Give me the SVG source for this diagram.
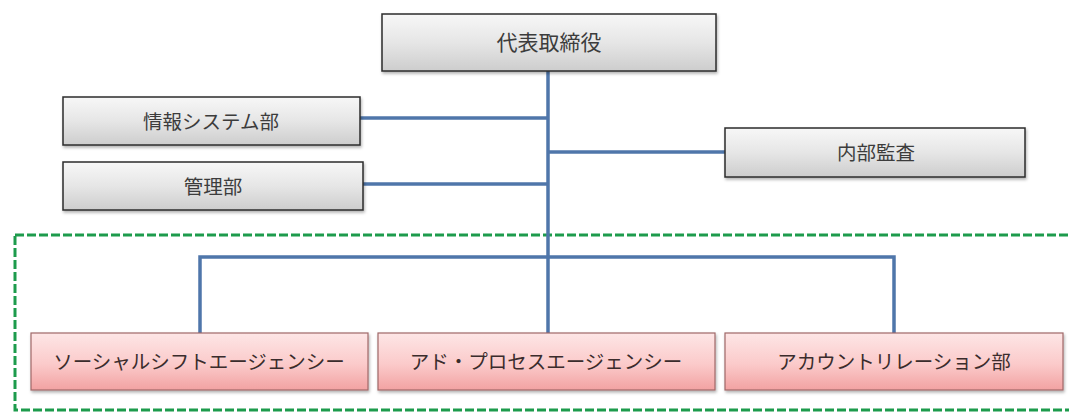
<svg xmlns="http://www.w3.org/2000/svg" width="1069" height="412" viewBox="0 0 1069 412">
<style>
.gbox{fill:url(#gg);stroke:#2b2b2b;stroke-width:1.5;filter:url(#sh)}
.pbox{fill:url(#pg);stroke:#a06868;stroke-width:1.2;filter:url(#sh)}
.t{font-family:"Noto Sans CJK JP","Noto Sans",sans-serif;font-size:19.5px;fill:#3c3c3c;text-anchor:middle;dominant-baseline:central}
.tp{fill:#3a2c2c}
.conn{fill:none;stroke:#4f76aa;stroke-width:3.5}
.grp{fill:none;stroke:#1d9b4c;stroke-width:3;stroke-dasharray:9 3}
</style>
<defs>
<linearGradient id="gg" x1="0" y1="0" x2="0" y2="1">
<stop offset="0" stop-color="#f7f7f7"/>
<stop offset="0.5" stop-color="#e6e6e6"/>
<stop offset="1" stop-color="#cdcdcd"/>
</linearGradient>
<linearGradient id="pg" x1="0" y1="0" x2="0" y2="1">
<stop offset="0" stop-color="#fde6e6"/>
<stop offset="0.55" stop-color="#fbcaca"/>
<stop offset="1" stop-color="#f2a2a2"/>
</linearGradient>
<filter id="sh" x="-5%" y="-10%" width="110%" height="130%">
<feDropShadow dx="1" dy="2" stdDeviation="1.5" flood-color="#000" flood-opacity="0.3"/>
</filter>
</defs>
<rect class="grp" x="15" y="235" width="1066" height="175"/>
<g id="connectors">
<path class="conn" d="M548 71 V333"/>
<path class="conn" d="M360 118 H548"/>
<path class="conn" d="M363 184 H548"/>
<path class="conn" d="M548 152 H725"/>
<path class="conn" d="M200 333 V257 H894 V333"/>
</g>
<g id="ceo">
<rect class="gbox" x="382" y="14" width="334" height="57"/>
<text class="t" x="549" y="41" style="font-size:21px">代表取締役</text>
</g>
<g id="info-system">
<rect class="gbox" x="63" y="97" width="297" height="48"/>
<text class="t" x="211" y="120">情報システム部</text>
</g>
<g id="kanri">
<rect class="gbox" x="63" y="162" width="300" height="48"/>
<text class="t" x="213" y="185">管理部</text>
</g>
<g id="audit">
<rect class="gbox" x="725" y="128" width="300" height="49"/>
<text class="t" x="876" y="151">内部監査</text>
</g>
<g id="social-shift">
<rect class="pbox" x="31" y="333" width="337" height="57"/>
<text class="t tp" x="199" y="360">ソーシャルシフトエージェンシー</text>
</g>
<g id="ad-process">
<rect class="pbox" x="378" y="333" width="337" height="57"/>
<text class="t tp" x="546" y="360">アド・プロセスエージェンシー</text>
</g>
<g id="account-relation">
<rect class="pbox" x="725" y="333" width="338" height="57"/>
<text class="t tp" x="894" y="360">アカウントリレーション部</text>
</g>
</svg>
